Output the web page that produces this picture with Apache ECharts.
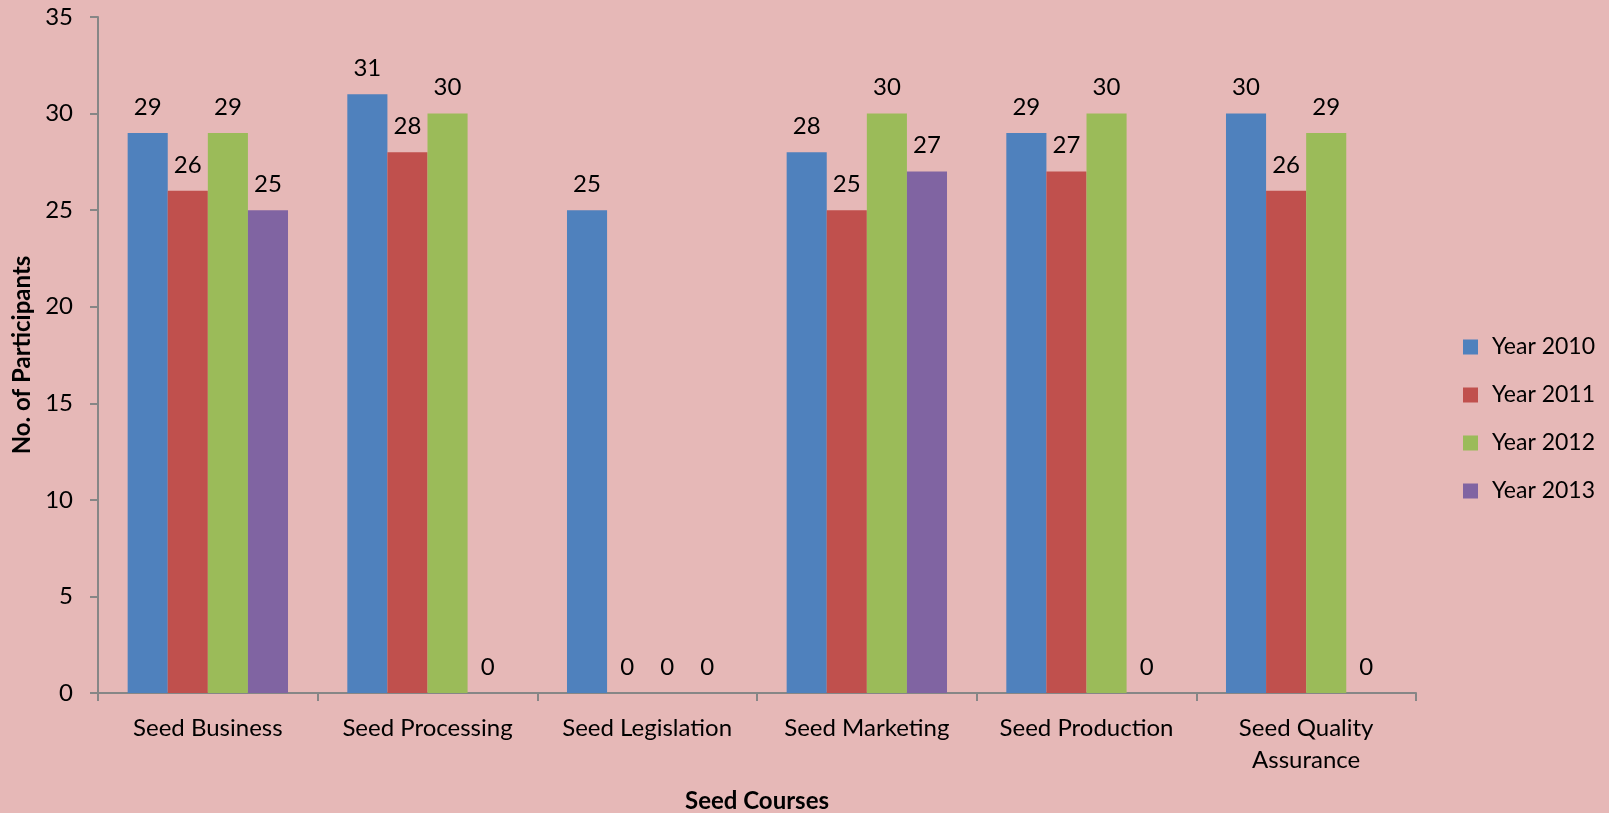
<!DOCTYPE html>
<html><head><meta charset="utf-8">
<script src="https://cdn.jsdelivr.net/npm/echarts@6/dist/echarts.min.js"></script>
<style>html,body{margin:0;padding:0;background:#E6B8B7;}#c{width:1609px;height:813px;}</style>
</head><body><div id="c"></div>
<script>
const categories = ['Seed Business','Seed Processing','Seed Legislation','Seed Marketing','Seed Production','Seed Quality\nAssurance'];
const seriesNames = ['Year 2010','Year 2011','Year 2012','Year 2013'];
const y2010 = [29,31,25,28,29,30];
const y2011 = [26,28,0,25,27,26];
const y2012 = [29,30,0,30,30,29];
const y2013 = [25,0,0,27,0,0];
const colors = ['#4F81BD','#C0504D','#9BBB59','#8064A2'];
const values = [y2010,y2011,y2012,y2013];
const FONT = 'Lato';
const chart = echarts.init(document.getElementById('c'));
chart.setOption({
  backgroundColor:'#E6B8B7',
  textStyle:{fontFamily:FONT},
  legend:{
    orient:'vertical', left:1458, top:330,
    itemWidth:15, itemHeight:15, itemGap:24,
    icon:'rect',
    textStyle:{fontFamily:FONT,fontSize:23,lineHeight:24,color:'#000',padding:[0,0,0,9]},
    data:seriesNames
  },
  grid:{left:98,right:193,top:17,bottom:120,containLabel:false,outerBoundsMode:'none'},
  xAxis:{
    type:'category', data:categories,
    name:'Seed Courses', nameLocation:'middle', nameGap:96,
    nameTextStyle:{fontFamily:FONT,fontSize:24,fontWeight:'bold',color:'#000'},
    axisLine:{lineStyle:{color:'#868686',width:2}},
    axisTick:{show:true,length:8,lineStyle:{color:'#868686',width:2}},
    axisLabel:{interval:0,fontFamily:FONT,fontSize:24,color:'#000',margin:19,lineHeight:32}
  },
  yAxis:{
    type:'value', min:0, max:35, interval:5,
    name:'No. of Participants', nameLocation:'middle', nameGap:57, nameRotate:90,
    nameTextStyle:{fontFamily:FONT,fontSize:24,fontWeight:'bold',color:'#000'},
    axisLine:{show:true,lineStyle:{color:'#868686',width:2}},
    axisTick:{show:true,length:8,lineStyle:{color:'#868686',width:2}},
    splitLine:{show:false},
    axisLabel:{fontFamily:FONT,fontSize:24,color:'#000',margin:25}
  },
  series: values.map((v,i)=>({
    name:seriesNames[i], type:'bar', data:v,
    itemStyle:{color:colors[i]},
    barGap:'0%', barCategoryGap:'27%',
    label:{show:true,position:'top',distance:14,fontFamily:FONT,fontSize:24,color:'#000'}
  }))
});
</script></body></html>
